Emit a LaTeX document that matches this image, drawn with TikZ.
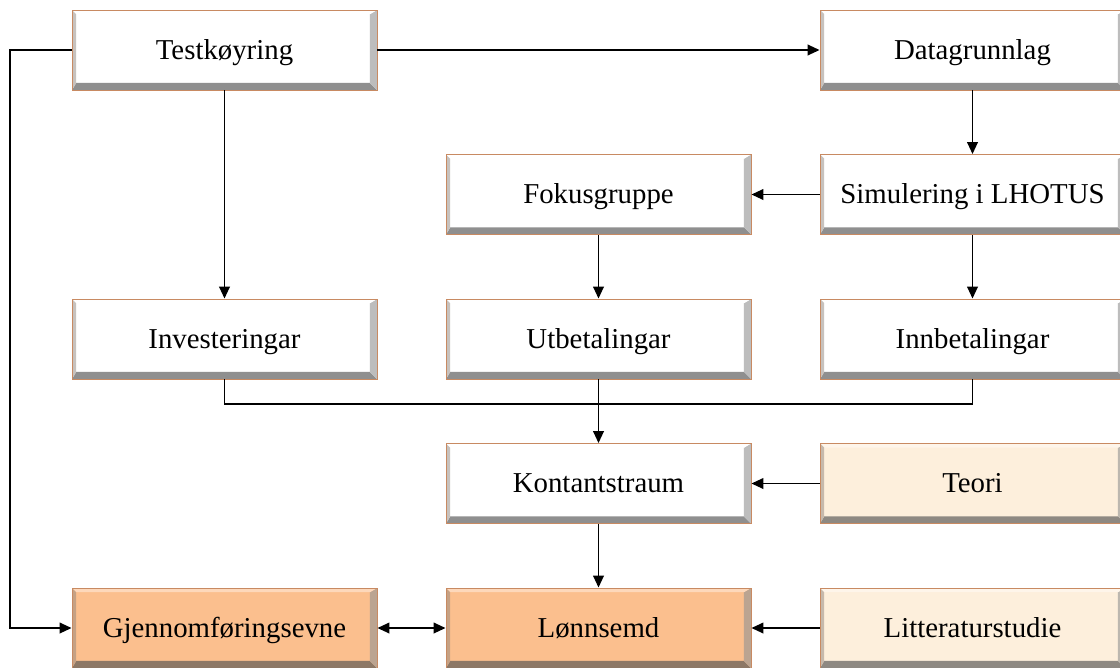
\documentclass[tikz,border=0pt]{standalone}
\usepackage{fontspec}
\setmainfont{Liberation Serif}
\usepackage{tikz}
\usetikzlibrary{positioning, arrows.meta}

\definecolor{boxwhite}{HTML}{FFFFFF}
\definecolor{boxcream}{HTML}{FDEFDC}
\definecolor{boxpeach}{HTML}{FBBF8E}
\definecolor{boxedge}{HTML}{C88A62}

\tikzset{
    box/.style={rectangle, draw=boxedge, line width=0.6pt, fill=#1,
        minimum width=7.625cm, minimum height=2cm, inner sep=0pt,
        text height=17pt, text depth=4pt,
        font=\fontsize{20.5}{24}\selectfont,
        path picture={
            % bevel: bottom, right, top, left
            \fill[#1!45!black!80] (path picture bounding box.south west)
                -- (path picture bounding box.south east)
                -- ([shift={(-5pt,5pt)}]path picture bounding box.south east)
                -- ([shift={(3pt,5pt)}]path picture bounding box.south west) -- cycle;
            \fill[#1!60!black!65] (path picture bounding box.south east)
                -- (path picture bounding box.north east)
                -- ([shift={(-5pt,-3pt)}]path picture bounding box.north east)
                -- ([shift={(-5pt,5pt)}]path picture bounding box.south east) -- cycle;
            \fill[#1!60!white] (path picture bounding box.north west)
                -- (path picture bounding box.north east)
                -- ([shift={(-5pt,-3pt)}]path picture bounding box.north east)
                -- ([shift={(3pt,-3pt)}]path picture bounding box.north west) -- cycle;
            \fill[#1!85!boxedge!60!gray] (path picture bounding box.north west)
                -- (path picture bounding box.south west)
                -- ([shift={(3pt,5pt)}]path picture bounding box.south west)
                -- ([shift={(3pt,-3pt)}]path picture bounding box.north west) -- cycle;
        }},
    box/.default=boxwhite,
    link/.style={line width=1.4pt, -{Triangle[length=8.5pt,width=7.5pt]}}
}

\begin{document}
\begin{tikzpicture}[node distance=3.6125cm and 9.35cm, on grid]
    \useasboundingbox (0,0) rectangle (28,-16.675);
    \clip (0,0) rectangle (28,-16.675);

    % Top row
    \node[box] (test) at (5.6125,-1.25) {Testkøyring};
    \node[box, right=18.7cm of test] (data) {Datagrunnlag};

    % Second row
    \node[box, below=of data] (sim) {Simulering i LHOTUS};
    \node[box, left=of sim] (fok) {Fokusgruppe};

    % Third row
    \node[box, below=7.225cm of test] (inv) {Investeringar};
    \node[box, below=of fok] (utb) {Utbetalingar};
    \node[box, below=of sim] (inn) {Innbetalingar};

    % Cash flow and sources
    \node[box, below=of utb] (kont) {Kontantstraum};
    \node[box=boxcream, right=of kont] (teori) {Teori};

    % Bottom row
    \node[box=boxpeach, below=of kont] (lon) {Lønnsemd};
    \node[box=boxpeach, left=of lon] (gjen) {Gjennomføringsevne};
    \node[box=boxcream, right=of lon] (lit) {Litteraturstudie};

    \draw[link] (test) -- (data);
    \draw[link] (test.west) -- ++(-1.55,0) |- (gjen.west);
    \draw[link] (test) -- (inv);
    \draw[link] (data) -- (sim);
    \draw[link] (sim) -- (fok);
    \draw[link] (sim) -- (inn);
    \draw[link] (fok) -- (utb);

    % Merge into cash flow
    \draw[line width=1.4pt] (inv.south) -- ++(0,-0.625) -| (inn.south);
    \draw[link] (utb) -- (kont);

    \draw[link] (teori) -- (kont);
    \draw[link] (kont) -- (lon);
    \draw[link] (lit) -- (lon);
    \draw[line width=1.4pt, {Triangle[length=8.5pt,width=7.5pt]}-{Triangle[length=8.5pt,width=7.5pt]}] (gjen) -- (lon);
\end{tikzpicture}
\end{document}
